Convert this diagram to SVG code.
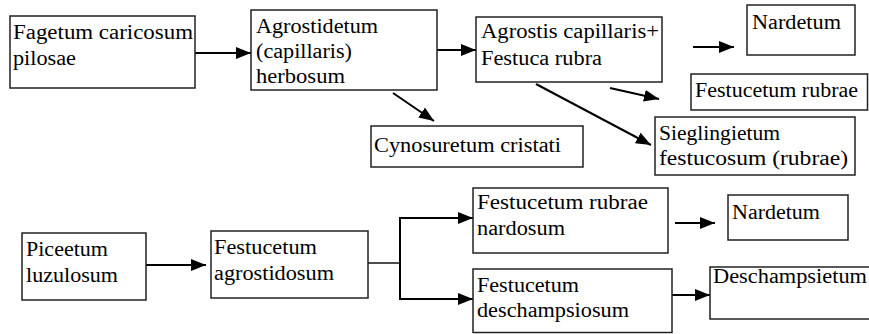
<svg xmlns="http://www.w3.org/2000/svg" width="869" height="334" viewBox="0 0 869 334" font-family="Liberation Serif, DejaVu Serif, serif" font-size="20">
<defs>
<marker id="ah" markerUnits="userSpaceOnUse" markerWidth="16" markerHeight="12" refX="15" refY="6" orient="auto">
<path d="M0,0 L15,6 L0,12 z" fill="#000"/>
</marker>
<style>
.box{fill:#fff;stroke:#222;stroke-width:1.5}
.c{fill:none;stroke:#000;stroke-width:2}
.ca{fill:none;stroke:#000;stroke-width:2;marker-end:url(#ah)}
.thin{fill:none;stroke:#000;stroke-width:1.4}
</style>
</defs>
<rect width="869" height="334" fill="#fff"/>
<g id="connectors">
<line class="ca" x1="195" y1="53" x2="251" y2="53"/>
<line class="ca" x1="437" y1="50" x2="476" y2="50"/>
<line class="ca" x1="393" y1="93" x2="434" y2="121"/>
<line class="ca" x1="693" y1="47" x2="734" y2="47"/>
<line class="ca" x1="610" y1="88" x2="659" y2="99"/>
<line class="ca" x1="536" y1="84" x2="651" y2="145"/>
<line class="ca" x1="146" y1="265" x2="206" y2="265"/>
<line class="thin" x1="368" y1="263" x2="400" y2="263"/>
<polyline class="c" points="472,218 400,218 400,299 472,299"/>
<line class="ca" x1="400" y1="218" x2="473" y2="218"/>
<line class="ca" x1="400" y1="299" x2="473" y2="299"/>
<line class="ca" x1="675" y1="223" x2="715" y2="223"/>
<line class="ca" x1="672" y1="295" x2="710" y2="295"/>
</g>
<g id="fagetum">
<rect class="box" x="10" y="16" width="185" height="72"/>
<text x="13" y="39" textLength="180" lengthAdjust="spacingAndGlyphs">Fagetum caricosum</text>
<text x="13" y="65" textLength="63" lengthAdjust="spacingAndGlyphs">pilosae</text>
</g>
<g id="agrostidetum">
<rect class="box" x="251" y="10" width="186" height="80"/>
<text x="256" y="33" textLength="122" lengthAdjust="spacingAndGlyphs">Agrostidetum</text>
<text x="256" y="58" textLength="96" lengthAdjust="spacingAndGlyphs">(capillaris)</text>
<text x="256" y="83" textLength="89" lengthAdjust="spacingAndGlyphs">herbosum</text>
</g>
<g id="agrostis-festuca">
<rect class="box" x="476" y="17" width="186" height="65"/>
<text x="481" y="38" textLength="178" lengthAdjust="spacingAndGlyphs">Agrostis capillaris+</text>
<text x="481" y="65" textLength="121" lengthAdjust="spacingAndGlyphs">Festuca rubra</text>
</g>
<g id="nardetum-top">
<rect class="box" x="747" y="5" width="108" height="50"/>
<text x="752" y="29" textLength="89" lengthAdjust="spacingAndGlyphs">Nardetum</text>
</g>
<g id="festucetum-rubrae">
<rect class="box" x="691" y="74" width="176.5" height="36"/>
<text x="695" y="97" textLength="163" lengthAdjust="spacingAndGlyphs">Festucetum  rubrae</text>
</g>
<g id="sieglingietum">
<rect class="box" x="655" y="117" width="200" height="58"/>
<text x="659" y="140" textLength="121" lengthAdjust="spacingAndGlyphs">Sieglingietum</text>
<text x="659" y="165" textLength="189" lengthAdjust="spacingAndGlyphs">festucosum (rubrae)</text>
</g>
<g id="cynosuretum">
<rect class="box" x="371" y="126" width="212" height="41"/>
<text x="374" y="152" textLength="187" lengthAdjust="spacingAndGlyphs">Cynosuretum cristati</text>
</g>
<g id="piceetum">
<rect class="box" x="22" y="233" width="124" height="67"/>
<text x="26" y="256" textLength="82" lengthAdjust="spacingAndGlyphs">Piceetum</text>
<text x="26" y="282" textLength="92" lengthAdjust="spacingAndGlyphs">luzulosum</text>
</g>
<g id="festucetum-agrostidosum">
<rect class="box" x="211" y="231" width="157" height="67"/>
<text x="214" y="254" textLength="103" lengthAdjust="spacingAndGlyphs">Festucetum</text>
<text x="214" y="280" textLength="120" lengthAdjust="spacingAndGlyphs">agrostidosum</text>
</g>
<g id="festucetum-rubrae-nardosum">
<rect class="box" x="473" y="188" width="195" height="65"/>
<text x="477" y="209" textLength="171" lengthAdjust="spacingAndGlyphs">Festucetum rubrae</text>
<text x="477" y="235" textLength="88" lengthAdjust="spacingAndGlyphs">nardosum</text>
</g>
<g id="nardetum-bottom">
<rect class="box" x="728" y="195" width="120" height="45"/>
<text x="732" y="219" textLength="88" lengthAdjust="spacingAndGlyphs">Nardetum</text>
</g>
<g id="festucetum-deschampsiosum">
<rect class="box" x="473" y="269" width="199" height="63.5"/>
<text x="477" y="292" textLength="102" lengthAdjust="spacingAndGlyphs">Festucetum</text>
<text x="477" y="317" textLength="152" lengthAdjust="spacingAndGlyphs">deschampsiosum</text>
</g>
<g id="deschampsietum">
<rect class="box" x="710" y="267" width="162" height="52"/>
<text x="713" y="283" textLength="154" lengthAdjust="spacingAndGlyphs">Deschampsietum</text>
</g>
</svg>
